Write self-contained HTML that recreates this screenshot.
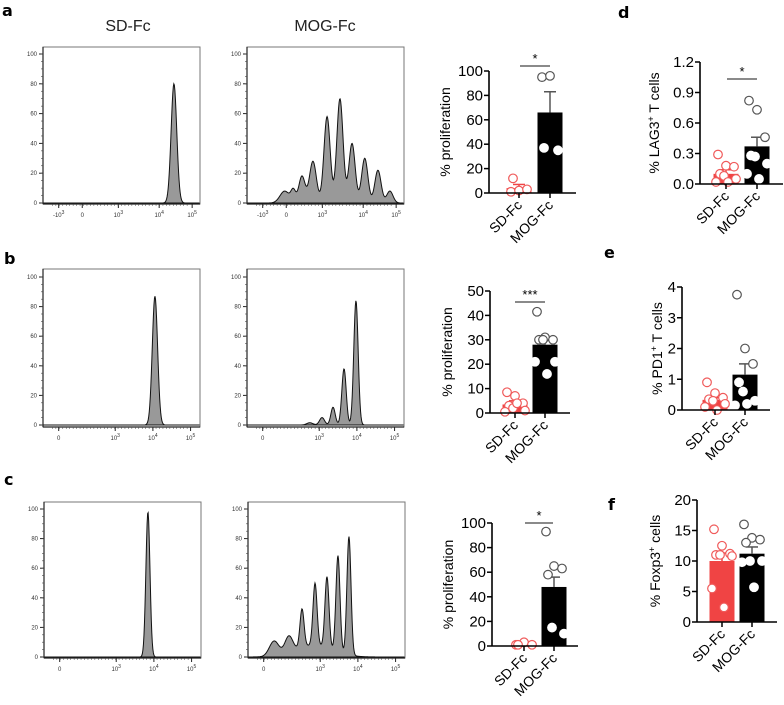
<!DOCTYPE html>
<html><head><meta charset="utf-8"><style>
body{margin:0;background:#fff}
svg{display:block;font-family:"Liberation Sans",sans-serif}
</style></head><body>
<svg id="fig" width="784" height="705" viewBox="0 0 784 705">
<g font-family="DejaVu Sans, Liberation Sans, sans-serif" font-weight="bold" font-size="16" fill="#000">
<text x="2" y="16">a</text>
<text x="4" y="264">b</text>
<text x="4" y="485">c</text>
<text x="618" y="18">d</text>
<text x="604" y="258">e</text>
<text x="608" y="510">f</text>
</g>
<text x="128" y="31" font-size="16" text-anchor="middle" fill="#222">SD-Fc</text>
<text x="325" y="31" font-size="16" text-anchor="middle" fill="#222">MOG-Fc</text>
</svg>
<script>
// ---- histogram data (x as fraction of axis width, height in % of max) ----
const histAleftPos=[0.834], histAleftH=[80], histAleftS=[0.018];
const histArightPos=[0.24,0.295,0.35,0.42,0.51,0.592,0.669,0.75,0.834,0.91], histArightH=[8,8,18,28,58,70,40,30,22,8], histArightS=[0.03,0.015,0.02,0.022,0.02,0.02,0.02,0.02,0.02,0.02];
const histBleftPos=[0.713], histBleftH=[87], histBleftS=[0.017];
const histBrightPos=[0.40,0.478,0.548,0.618,0.694], histBrightH=[1.5,5,12,38,84], histBrightS=[0.02,0.016,0.014,0.014,0.014];
const histCleftPos=[0.662], histCleftH=[98], histCleftS=[0.013];
const histCrightPos=[0.166,0.26,0.344,0.427,0.503,0.573,0.643,0.42], histCrightH=[10,11,26,42,48,65,80,8], histCrightS=[0.03,0.025,0.013,0.013,0.013,0.013,0.013,0.12];
const yTicksHist=[0,20,40,60,80,100];

// ---- bar chart data ----
const groups=["SD-Fc","MOG-Fc"];
const aMeans=[4,66], aErr=[7,83], aSD=[1,2,3,12], aMOG=[95,96,35,37], aTicks=[0,20,40,60,80,100];
const bMeans=[3.5,28], bErr=[5,30], bSD=[8.5,7,4,3,2,1,0.5,4], bMOG=[41.5,31,30,30,30,21,21,16], bTicks=[0,10,20,30,40,50];
const cMeans=[1,48], cErr=[1.5,56], cSD=[1,3,1,1], cMOG=[93,65,63,58,15,10], cTicks=[0,20,40,60,80,100];
const dMeans=[0.1,0.37], dErr=[0.14,0.46], dSD=[0.29,0.18,0.17,0.1,0.08,0.05,0.02,0.02], dMOG=[0.82,0.73,0.46,0.28,0.27,0.2,0.1,0.05], dTicks=[0,0.3,0.6,0.9,1.2];
const eMeans=[0.33,1.15], eErr=[0.4,1.5], eSD=[0.9,0.55,0.4,0.35,0.3,0.2,0.1,0], eMOG=[3.75,2,1.5,0.9,0.6,0.3,0.15,0.2], eTicks=[0,1,2,3,4];
const fMeans=[10,11.2], fErr=[11.3,12.3], fSD=[15.2,12.5,11.2,11,11,10.8,5.5,2.4], fMOG=[16,13.8,13.5,13,10,10,9.8,5.7], fTicks=[0,5,10,15,20];

const svg=document.getElementById('fig');
const NS='http://www.w3.org/2000/svg';
function mk(tag,attrs,parent){const e=document.createElementNS(NS,tag);for(const k in attrs)e.setAttribute(k,attrs[k]);(parent||svg).appendChild(e);return e;}

function hist(name,x0,top,bottom,y0,y100,pos,hs,ss,xlabels){
  const g=mk('g',{});
  
  
  const w=157;
  const sx=f=>x0+f*w, sy=v=>y0+(y100-y0)*v/100;
  let d='M'+sx(0)+','+sy(0);
  const N=300;
  for(let i=0;i<=N;i++){const f=i/N;let v=0;for(let k=0;k<pos.length;k++){v+=hs[k]*Math.exp(-((f-pos[k])**2)/(2*ss[k]*ss[k]));}d+=' L'+sx(f).toFixed(2)+','+sy(v).toFixed(2);}
  d+=' L'+sx(1)+','+sy(0)+'Z';
  const p=mk('path',{d:d,fill:'#999',stroke:'#111','stroke-width':1},g);
  
  
  const fr=mk('rect',{x:x0,y:top,width:w,height:bottom-top,fill:'none',stroke:'#777','stroke-width':1},g);
  
  
  mk('line',{x1:x0,y1:top,x2:x0,y2:bottom,stroke:'#222','stroke-width':1.2},g);
  mk('line',{x1:x0,y1:bottom,x2:x0+w,y2:bottom,stroke:'#222','stroke-width':1.2},g);
  yTicksHist.forEach(t=>{
    mk('line',{x1:x0-4,y1:sy(t),x2:x0,y2:sy(t),stroke:'#222'},g);
    const tx=mk('text',{x:x0-6,y:sy(t)+2,'font-size':6,'text-anchor':'end',fill:'#333'},g);
    tx.textContent=t;
    
    
  });
  for(let t=0;t<=100;t+=5){mk('line',{x1:x0-2,y1:sy(t),x2:x0,y2:sy(t),stroke:'#444','stroke-width':0.6},g);}
  xlabels.forEach(l=>{
    mk('line',{x1:sx(l[0]),y1:bottom,x2:sx(l[0]),y2:bottom+4,stroke:'#222'},g);
    const tx=mk('text',{x:sx(l[0]),y:bottom+13,'font-size':6,'text-anchor':'middle',fill:'#333'},g);
    tx.textContent=l[1];
    if(l[2]){const s=mk('tspan',{dy:-3,'font-size':5},tx);s.textContent=l[2];}
    
    
  });
  for(let i=0;i<40;i++){mk('line',{x1:sx(0.06+i*0.022),y1:bottom,x2:sx(0.06+i*0.022),y2:bottom+2,stroke:'#444','stroke-width':0.5},g);}
}
const xlA=[[0.1,'-10','3'],[0.25,'0'],[0.48,'10','3'],[0.74,'10','4'],[0.95,'10','5']];
const xlB=[[0.1,'0'],[0.46,'10','3'],[0.7,'10','4'],[0.94,'10','5']];
hist('histogram-a-sd',43,47,204,203,54,histAleftPos,histAleftH,histAleftS,xlA);
hist('histogram-a-mog',247,47,204,203,54,histArightPos,histArightH,histArightS,xlA);
hist('histogram-b-sd',43,269,427,425,277,histBleftPos,histBleftH,histBleftS,xlB);
hist('histogram-b-mog',247,269,427,425,277,histBrightPos,histBrightH,histBrightS,xlB);
hist('histogram-c-sd',44,502,658,657,509,histCleftPos,histCleftH,histCleftS,xlB);
hist('histogram-c-mog',248,502,658,657,509,histCrightPos,histCrightH,histCrightS,xlB);

function bar(name,o){
  const g=mk('g',{});
  
  
  const max=o.ticks[o.ticks.length-1];
  const sy=v=>o.y0+(o.ytop-o.y0)*v/max;
  const bw=25;
  const cols=['#f04444','#000'];
  [0,1].forEach(i=>{
    const cx=o.cx[i];
    const r=mk('rect',{x:cx-bw/2,y:sy(o.means[i]),width:bw,height:o.y0-sy(o.means[i]),fill:cols[i]},g);
    
    
    const ec=i==0?'#f04444':'#555';
    mk('line',{x1:cx,y1:sy(o.means[i]),x2:cx,y2:sy(o.err[i]),stroke:ec,'stroke-width':1.5},g);
    mk('line',{x1:cx-6,y1:sy(o.err[i]),x2:cx+6,y2:sy(o.err[i]),stroke:ec,'stroke-width':1.5},g);
    const pts=i==0?o.sd:o.mog;
    pts.forEach((v,k)=>{
      const off=((k%3)-1)*8+(k%2?2:-2)*(k>2?1:0);
      const c=mk('circle',{cx:cx+off,cy:sy(v),r:4.3,fill:'#fff',stroke:i==0?'#f05a5a':(v>o.means[i]?'#555':'#fff'),'stroke-width':1.2},g);
      
      
    });
    const xt=mk('text',{x:0,y:0,'font-size':14,'text-anchor':'end',fill:'#000',transform:`translate(${cx+4},${o.y0+13}) rotate(-45)`},g);
    xt.textContent=groups[i];
    
    
    mk('line',{x1:cx,y1:o.y0,x2:cx,y2:o.y0+5,stroke:'#000','stroke-width':1.5},g);
  });
  mk('line',{x1:o.ax,y1:o.y0,x2:o.ax,y2:o.ytop,stroke:'#000','stroke-width':1.6},g);
  mk('line',{x1:o.ax,y1:o.y0,x2:o.xend,y2:o.y0,stroke:'#000','stroke-width':1.6},g);
  o.ticks.forEach(t=>{
    mk('line',{x1:o.ax-5,y1:sy(t),x2:o.ax,y2:sy(t),stroke:'#000','stroke-width':1.5},g);
    const tx=mk('text',{x:o.ax-6,y:sy(t)+5,'font-size':15,'text-anchor':'end',fill:'#000'},g);
    tx.textContent=o.fmt?t.toFixed(1):t;
    
    
  });
  const yt=mk('text',{x:0,y:0,'font-size':14,'text-anchor':'middle',fill:'#000',transform:`translate(${o.tx},${(o.y0+o.ytop)/2}) rotate(-90)`},g);
  yt.innerHTML=o.title;
  
  
  if(o.sig){
    mk('line',{x1:o.sig[0],y1:o.sig[2],x2:o.sig[1],y2:o.sig[2],stroke:'#444','stroke-width':1.3},g);
    const st=mk('text',{x:(o.sig[0]+o.sig[1])/2,y:o.sig[2]-3,'font-size':13,'text-anchor':'middle',fill:'#000'},g);
    st.textContent=o.sig[3];
    
    
  }
}
bar('bar-chart-a',{ax:489,xend:576,y0:193,ytop:71,cx:[519,550],means:aMeans,err:aErr,sd:aSD,mog:aMOG,ticks:aTicks,tx:450,title:'% proliferation',sig:[520,550,66,'*']});
bar('bar-chart-b',{ax:490,xend:570,y0:413,ytop:291,cx:[515,545],means:bMeans,err:bErr,sd:bSD,mog:bMOG,ticks:bTicks,tx:452,title:'% proliferation',sig:[515,545,302,'***']});
bar('bar-chart-c',{ax:492,xend:578,y0:646,ytop:523,cx:[524,554],means:cMeans,err:cErr,sd:cSD,mog:cMOG,ticks:cTicks,tx:453,title:'% proliferation',sig:[525,553,523,'*']});
bar('bar-chart-d',{ax:700,xend:783,y0:184,ytop:62,cx:[726,757],means:dMeans,err:dErr,sd:dSD,mog:dMOG,ticks:dTicks,tx:659,fmt:true,title:'% LAG3<tspan dy="-5" font-size="9">+</tspan><tspan dy="5"> T cells</tspan>',sig:[727,757,79,'*']});
bar('bar-chart-e',{ax:682,xend:770,y0:410,ytop:287,cx:[715,745],means:eMeans,err:eErr,sd:eSD,mog:eMOG,ticks:eTicks,tx:662,title:'% PD1<tspan dy="-5" font-size="9">+</tspan><tspan dy="5"> T cells</tspan>'});
bar('bar-chart-f',{ax:697,xend:777,y0:622,ytop:500,cx:[722,752],means:fMeans,err:fErr,sd:fSD,mog:fMOG,ticks:fTicks,tx:660,title:'% Foxp3<tspan dy="-5" font-size="9">+</tspan><tspan dy="5"> cells</tspan>'});
</script>
</body></html>
